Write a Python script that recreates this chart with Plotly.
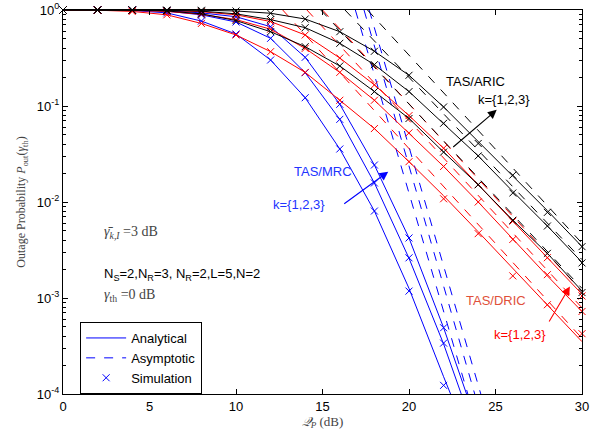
import plotly.graph_objects as go

# ---------------- data ----------------
qp_db = [0, 2, 4, 6, 8, 10, 12, 14, 16, 18, 20, 22, 24, 26, 28, 30]
qp_db_mrc = [0, 2, 4, 6, 8, 10, 12, 14, 16, 18, 20, 22, 24]

# TAS/MRC (blue) analytical, k = 1, 2, 3
mrc_k1 = [1, 0.9989, 0.9886, 0.933, 0.767, 0.562, 0.3013, 0.1219, 0.03565, 0.00805, 0.001259, 0.0001514, 0.0000195]
mrc_k2 = [1, 1, 0.9954, 0.9727, 0.891, 0.750, 0.507, 0.2223, 0.0726, 0.01578, 0.002594, 0.000332, 0.0000316]
mrc_k3 = [1, 1, 0.9977, 0.9863, 0.9333, 0.8511, 0.6699, 0.3214, 0.1042, 0.02427, 0.004217, 0.00049, 0.0000447]
# simulation
mrc_k1_sim = [1, 0.9989, 0.9886, 0.933, 0.767, 0.562, 0.3013, 0.1219, 0.03565, 0.00805, 0.00118, 0.000123, None]
mrc_k2_sim = [1, 1, 0.9954, 0.9727, 0.891, 0.750, 0.507, 0.2223, 0.0726, 0.01578, 0.00262, 0.000339, None]
mrc_k3_sim = [1, 1, 0.9977, 0.9863, 0.9333, 0.8511, 0.6699, 0.3214, 0.1042, 0.02427, 0.00422, 0.00049, None]
# asymptotic (start / end points of each straight line)
mrc_asym_x = [[16.9, 23.4], [17.4, 23.8], [17.7, 24.15]]
mrc_asym_y = [1, 0.0001]

# TAS/DRIC (red)
dric_k1 = [1, 0.9954, 0.9661, 0.8913, 0.7244, 0.5495, 0.3681, 0.2239, 0.1148, 0.05821, 0.0263, 0.01161, 0.004898, 0.002042, 0.000851, 0.000351]
dric_k2 = [1, 0.9977, 0.9886, 0.9661, 0.9016, 0.7943, 0.6310, 0.3981, 0.2239, 0.1148, 0.05248, 0.02344, 0.01, 0.004074, 0.001698, 0.000724]
dric_k3 = [1, 1, 0.9954, 0.9886, 0.9594, 0.8913, 0.7586, 0.5495, 0.3162, 0.1660, 0.07943, 0.03631, 0.01514, 0.00631, 0.00263, 0.001096]
dric_k1_sim = [1, 0.9954, 0.9661, 0.8913, 0.7244, 0.5495, 0.3681, 0.2239, 0.1148, 0.05821, 0.0263, 0.0108, 0.00468, 0.0017, 0.000851, 0.000425]
dric_k2_sim = [1, 0.9977, 0.9886, 0.9661, 0.9016, 0.7943, 0.6310, 0.3981, 0.2239, 0.1148, 0.05248, 0.02344, 0.01, 0.004074, 0.00175, 0.000724]
dric_k3_sim = [1, 1, 0.9954, 0.9886, 0.9594, 0.8913, 0.7586, 0.5495, 0.3162, 0.1660, 0.07943, 0.03631, 0.01514, 0.00631, 0.00263, 0.00105]
dric_asym_x = [[12.7, 30], [14.1, 30], [15.0, 30]]
dric_asym_y = [[1, 0.00038], [1, 0.00079], [1, 0.00117]]

# TAS/ARIC (black)
aric_k1 = [1, 1, 0.9977, 0.9772, 0.9120, 0.7762, 0.5943, 0.4150, 0.2612, 0.1413, 0.07413, 0.03311, 0.01514, 0.006457, 0.002917, 0.001183]
aric_k2 = [1, 1, 1, 0.9931, 0.9727, 0.9120, 0.7943, 0.6546, 0.4498, 0.2692, 0.1413, 0.06607, 0.0302, 0.01288, 0.005623, 0.002355]
aric_k3 = [1, 1, 1, 0.9977, 0.9931, 0.9772, 0.9247, 0.8054, 0.5943, 0.3715, 0.2089, 0.09772, 0.04266, 0.01905, 0.008128, 0.003428]
aric_k1_sim = [1, 1, 0.9977, 0.9772, 0.9120, 0.7762, 0.5943, 0.4150, 0.2612, 0.1413, 0.07413, 0.03311, 0.01514, 0.006457, 0.002917, 0.00114]
aric_k2_sim = [1, 1, 1, 0.9931, 0.9727, 0.9120, 0.7943, 0.6546, 0.4498, 0.2692, 0.1413, 0.06607, 0.0302, 0.0124, 0.005623, 0.00232]
aric_k3_sim = [1, 1, 1, 0.9977, 0.9931, 0.9772, 0.9247, 0.8054, 0.5943, 0.3715, 0.2089, 0.09772, 0.0407, 0.01905, 0.0078, 0.003428]
aric_asym_x = [[14.9, 30], [16.3, 30], [17.6, 30]]
aric_asym_y = [[1, 0.001259], [1, 0.002512], [1, 0.003715]]

y_tick_vals = [1e-4, 1e-3, 1e-2, 1e-1, 1]
y_tick_text = ["10<sup>-4</sup>", "10<sup>-3</sup>", "10<sup>-2</sup>", "10<sup>-1</sup>", "10<sup>0</sup>"]

# ---------------- figure ----------------
BLUE = "#0000FF"
RED = "#FF0000"
BLACK = "#000000"
fig = go.Figure()

def line(x, y, color, dash="solid", name=None, legend=False):
    fig.add_trace(go.Scatter(x=x, y=y, mode="lines", line=dict(color=color, width=1, dash=dash),
                             name=name, showlegend=legend, hoverinfo="skip"))

def sim(x, y, color, name=None, legend=False):
    fig.add_trace(go.Scatter(x=x, y=y, mode="markers", cliponaxis=False,
                             marker=dict(symbol="x-thin", size=7, line=dict(color=color, width=1)),
                             name=name, showlegend=legend, hoverinfo="skip"))

# legend entries first
line(qp_db_mrc, mrc_k1, BLUE, name="Analytical", legend=True)
line(mrc_asym_x[0], mrc_asym_y, BLUE, dash="dash", name="Asymptotic", legend=True)
sim(qp_db_mrc, mrc_k1_sim, BLUE, name="Simulation", legend=True)

for yv in (mrc_k2, mrc_k3):
    line(qp_db_mrc, yv, BLUE)
for xv in mrc_asym_x[1:]:
    line(xv, mrc_asym_y, BLUE, dash="dash")
for yv in (mrc_k2_sim, mrc_k3_sim):
    sim(qp_db_mrc, yv, BLUE)

for yv in (dric_k1, dric_k2, dric_k3):
    line(qp_db, yv, RED)
for xv, yv in zip(dric_asym_x, dric_asym_y):
    line(xv, yv, RED, dash="dash")
for yv in (dric_k1_sim, dric_k2_sim, dric_k3_sim):
    sim(qp_db, yv, RED)

for yv in (aric_k1, aric_k2, aric_k3):
    line(qp_db, yv, BLACK)
for xv, yv in zip(aric_asym_x, aric_asym_y):
    line(xv, yv, BLACK, dash="dash")
for yv in (aric_k1_sim, aric_k2_sim, aric_k3_sim):
    sim(qp_db, yv, BLACK)

SANS = "Liberation Sans, Arial, sans-serif"
SERIF = "Liberation Serif, DejaVu Serif, serif"

def text(x, y, s, color, font=SANS, size=13, xanchor="center"):
    fig.add_annotation(x=x, y=y, xref="x", yref="y", text=s, showarrow=False,
                       font=dict(family=font, size=size, color=color), xanchor=xanchor, yanchor="middle")

def arrow(x0, y0, x1, y1, color):
    fig.add_annotation(x=x1, y=y1, ax=x0, ay=y0, xref="x", yref="y", axref="x", ayref="y",
                       text="", showarrow=True, arrowhead=2, arrowsize=1.6, arrowwidth=1.1,
                       arrowcolor=color)

text(23.87, -0.74, "TAS/ARIC", BLACK)
text(25.49, -0.93, "k={1,2,3}", BLACK)
arrow(22.47, -1.44, 25.07, -1.04, BLACK)

text(15.03, -1.68, "TAS/MRC", "#2233FF")
text(13.64, -2.03, "k={1,2,3}", "#2233FF")
arrow(16.17, -2.03, 18.8, -1.684, BLUE)

text(25.03, -3.03, "TAS/DRIC", "#E0503A")
text(26.42, -3.375, "k={1,2,3}", RED)
arrow(28.05, -3.26, 29.3, -2.88, RED)

text(2.24, -2.32, "<i>γ̄</i><sub><i>k,I</i></sub> =3 dB", "#444444", font=SERIF, size=14, xanchor="left")
text(2.24, -2.76, "N<sub>S</sub>=2,N<sub>R</sub>=3, N<sub>R</sub>=2,L=5,N=2", BLACK, xanchor="left")
text(2.24, -2.97, "<i>γ</i><sub>th</sub> =0 dB", "#444444", font=SERIF, size=14, xanchor="left")

minor_vals = [k * 10 ** e for e in (-4, -3, -2, -1) for k in range(2, 10)]

fig.update_layout(
    width=603, height=436,
    margin=dict(l=63, r=21, t=10, b=42),
    paper_bgcolor="white", plot_bgcolor="white",
    font=dict(family=SANS, size=13, color=BLACK),
    showlegend=True,
    legend=dict(x=0.033, y=0.1875, xanchor="left", yanchor="top",
                bgcolor="white", bordercolor=BLACK, borderwidth=1,
                font=dict(family=SANS, size=13, color=BLACK),
                tracegroupgap=0, itemwidth=40),
    xaxis=dict(range=[0, 30], dtick=5, tick0=0, showgrid=False, zeroline=False, automargin=False,
               showline=True, linecolor=BLACK, linewidth=1, mirror="ticks",
               ticks="inside", ticklen=5, tickcolor=BLACK,
               tickfont=dict(family=SANS, size=13, color=BLACK),
               title=dict(text="<i>𝒬</i><sub><i>P</i></sub> (dB)", standoff=2,
                          font=dict(family=SERIF, size=13, color="#444444"))),
    yaxis=dict(type="log", range=[-4, 0], showgrid=False, zeroline=False, automargin=False,
               showline=True, linecolor=BLACK, linewidth=1, mirror="ticks",
               ticks="inside", ticklen=5, tickcolor=BLACK, ticklabeloverflow="allow",
               tickmode="array", tickvals=y_tick_vals, ticktext=y_tick_text,
               tickfont=dict(family=SANS, size=13, color=BLACK),
               minor=dict(ticks="inside", ticklen=3, tickcolor=BLACK, tickmode="array",
                          tickvals=minor_vals, showgrid=False),
               title=dict(text="Outage Probability <i>P</i><sub>out</sub>(<i>γ</i><sub>th</sub>)",
                          standoff=8, font=dict(family=SERIF, size=12, color="#444444"))),
)

# remove the browser's default 8px page margin so the 603x436 figure fills the window
fig.write_html("out.html", config={"displayModeBar": False},
               post_script="document.body.style.margin='0px';")
